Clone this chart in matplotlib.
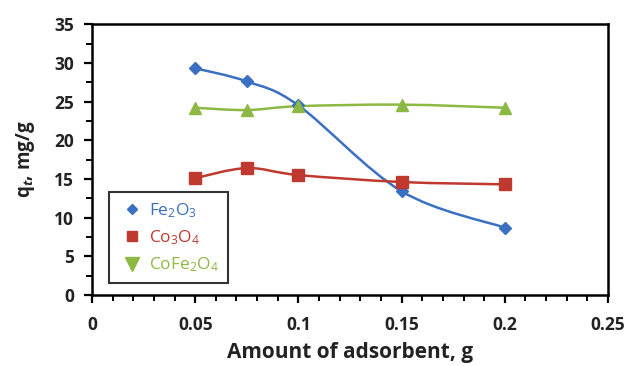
import numpy as np
import matplotlib
matplotlib.use("Agg")
import matplotlib.pyplot as plt
from matplotlib.path import Path
from matplotlib.patches import PathPatch
from matplotlib.lines import Line2D
from matplotlib.ticker import MultipleLocator

plt.rcParams['font.family'] = ['Open Sans', 'DejaVu Sans']
plt.rcParams['mathtext.fontset'] = 'custom'
plt.rcParams['mathtext.rm'] = 'Open Sans'
plt.rcParams['mathtext.it'] = 'Open Sans:italic:bold'
plt.rcParams['mathtext.bf'] = 'Open Sans:bold'
plt.rcParams['mathtext.default'] = 'regular'

# Data
adsorbent_g = [0.05, 0.075, 0.1, 0.15, 0.2]
fe2o3 = [29.3, 27.6, 24.5, 13.4, 8.7]
co3o4 = [15.1, 16.4, 15.5, 14.6, 14.3]
cofe2o4 = [24.2, 23.9, 24.4, 24.6, 24.2]

series_names = [r'Fe$_2$O$_3$', r'Co$_3$O$_4$', r'CoFe$_2$O$_4$']
colors = ['#3B6FC1', '#C0392F', '#8DB843']
plot_markers = ['D', 's', '^']
legend_markers = ['D', 's', 'v']

fig = plt.figure(figsize=(6.29, 3.66), dpi=100)
ax = fig.add_axes([0.1463, 0.194, 0.8203, 0.740])


def smooth_path(xs, ys):
    pts = np.column_stack([xs, ys]).astype(float)
    n = len(pts)
    verts = [pts[0]]
    codes = [Path.MOVETO]
    for i in range(n - 1):
        p0 = pts[i - 1] if i > 0 else pts[i]
        p1 = pts[i]
        p2 = pts[i + 1]
        p3 = pts[i + 2] if i + 2 < n else pts[i + 1]
        c1 = p1 + (p2 - p0) / 6.0
        c2 = p2 - (p3 - p1) / 6.0
        verts += [c1, c2, p2]
        codes += [Path.CURVE4] * 3
    return Path(verts, codes)


msizes = {'D': 6, 's': 8, '^': 8.5}
for ys, c, m in zip([fe2o3, co3o4, cofe2o4], colors, plot_markers):
    patch = PathPatch(smooth_path(adsorbent_g, ys), facecolor='none',
                      edgecolor=c, lw=1.8, zorder=2)
    ax.add_patch(patch)
    ax.plot(adsorbent_g, ys, linestyle='none', marker=m, color=c,
            markersize=msizes[m], zorder=3)

ax.set_xlim(0, 0.25)
ax.set_ylim(0, 35)
ax.xaxis.set_major_locator(MultipleLocator(0.05))
ax.xaxis.set_minor_locator(MultipleLocator(0.01))
ax.yaxis.set_major_locator(MultipleLocator(5))
ax.yaxis.set_minor_locator(MultipleLocator(2.5))
ax.set_xticks([0, 0.05, 0.1, 0.15, 0.2, 0.25])
ax.set_xticklabels(['0', '0.05', '0.1', '0.15', '0.2', '0.25'])

for s in ax.spines.values():
    s.set_linewidth(1.8)
    s.set_color('black')

ax.tick_params(axis='both', which='major', direction='out', length=6, width=1.6,
               labelsize=12.5)
ax.tick_params(axis='x', which='major', pad=9)
ax.tick_params(axis='y', which='major', pad=7)
ax.tick_params(axis='both', which='minor', direction='out', length=4, width=1.4)
for lab in ax.get_xticklabels() + ax.get_yticklabels():
    lab.set_fontweight('bold')
    lab.set_color('#222222')

ax.set_xlabel('Amount of adsorbent, g', fontsize=15, fontweight='bold',
              labelpad=6, color='#222222')
ax.set_ylabel(r'q$_{\mathit{t}}$, mg/g', fontsize=13.5, fontweight='bold',
              labelpad=12, color='#222222')

handles = [Line2D([], [], linestyle='none', marker=m, color=c,
                  markersize=(5.5 if m == 'D' else 7.5 if m == 's' else 10))
           for m, c in zip(legend_markers, colors)]
leg = ax.legend(handles, series_names, loc='lower left',
                bbox_to_anchor=(0.033, 0.044), fontsize=12.5, frameon=True,
                fancybox=False, handlelength=1.6, handletextpad=0.2,
                borderpad=0.5, labelspacing=0.5, borderaxespad=0)
leg.get_frame().set_edgecolor('black')
leg.get_frame().set_linewidth(1.5)
for t, c in zip(leg.get_texts(), colors):
    t.set_color(c)

fig.savefig('out.png', dpi=100)
